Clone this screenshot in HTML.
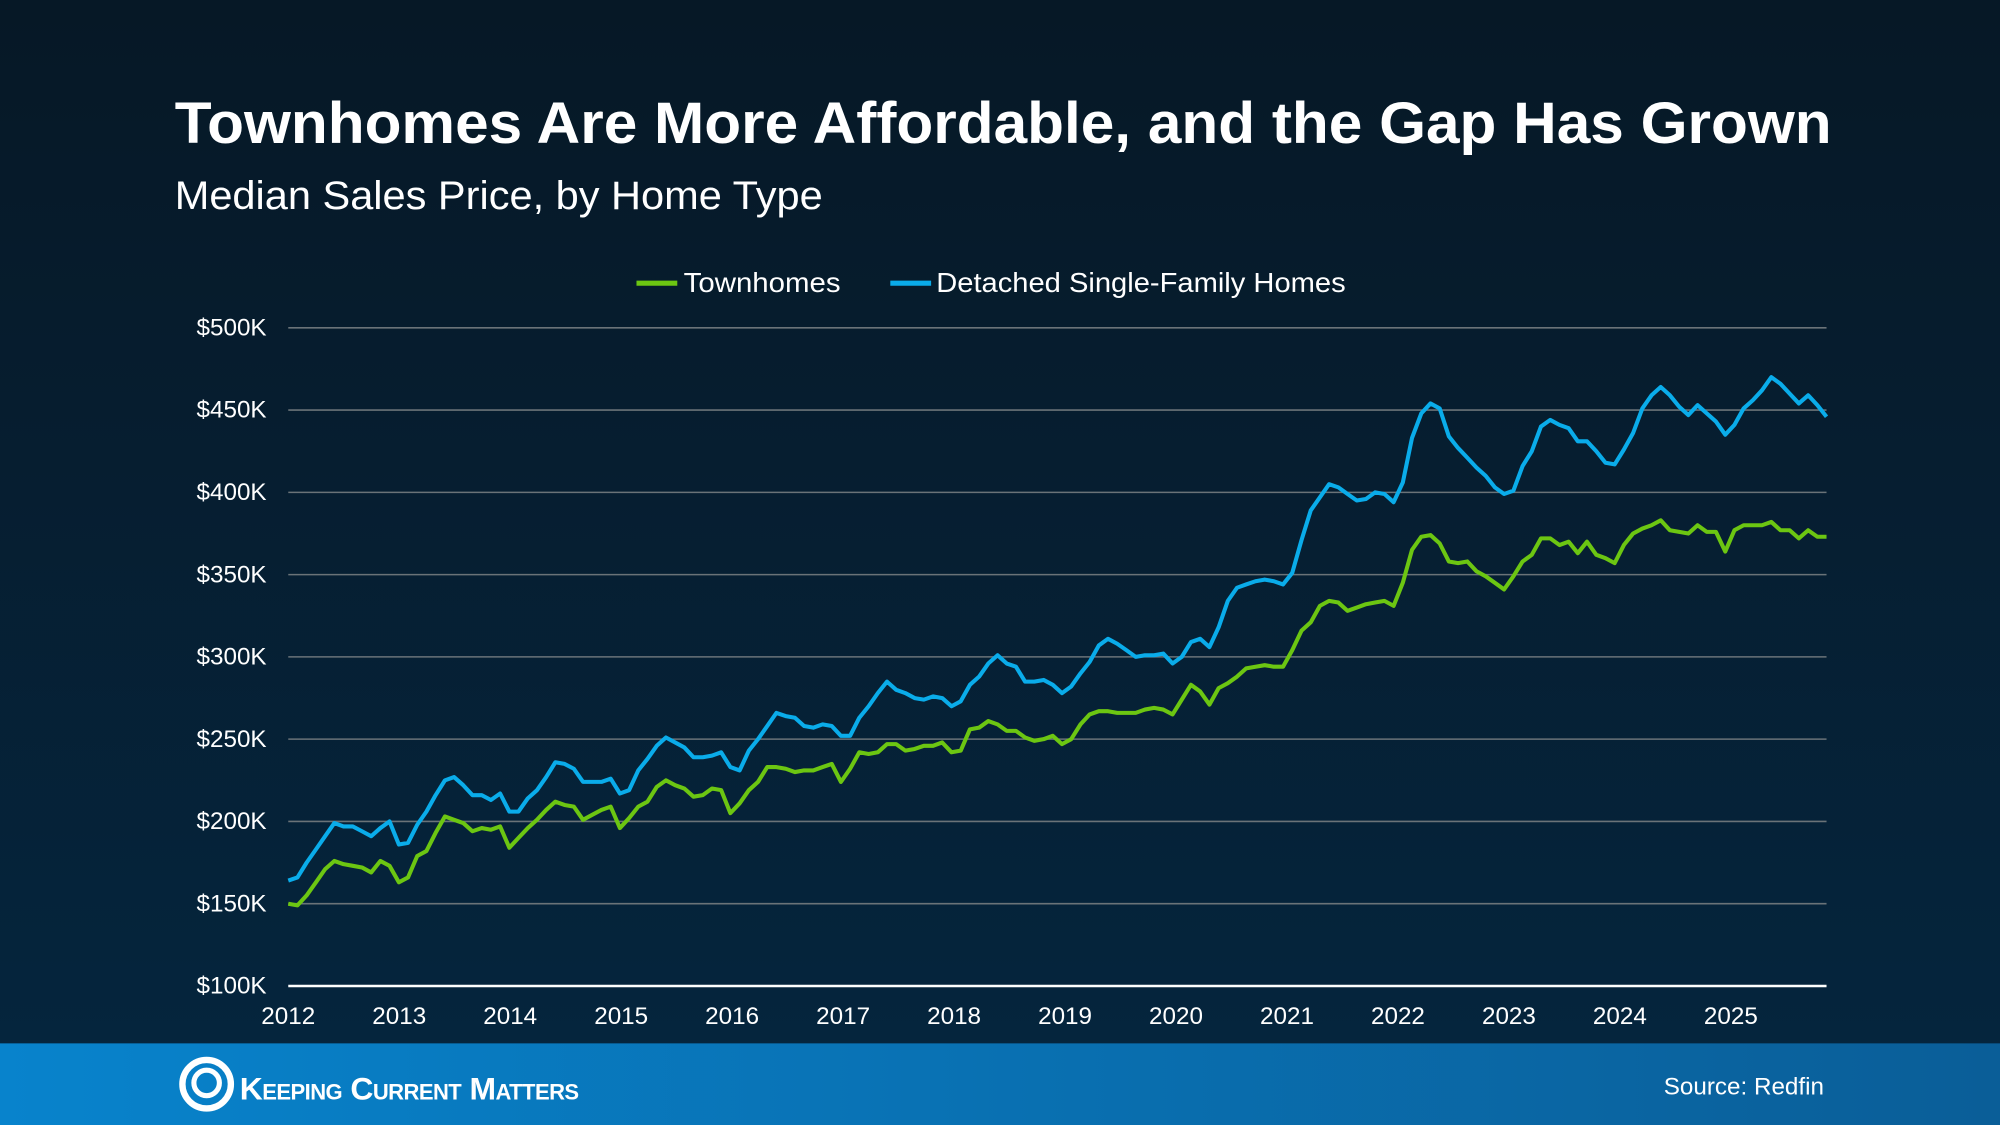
<!DOCTYPE html>
<html><head><meta charset="utf-8"><style>
html,body{margin:0;padding:0;background:#071c2e;}
svg{display:block;}
text{font-family:"Liberation Sans",Arial,sans-serif;}
</style></head><body>
<svg id="s" width="2000" height="1125" viewBox="0 0 1568 882" xmlns="http://www.w3.org/2000/svg">
<defs>
<linearGradient id="bg" x1="0" y1="0" x2="0" y2="1"><stop offset="0" stop-color="#061826"/><stop offset="1" stop-color="#05263f"/></linearGradient>
<linearGradient id="ft" x1="0" y1="0" x2="1" y2="0"><stop offset="0" stop-color="#0883cc"/><stop offset="1" stop-color="#0a5e98"/></linearGradient>
</defs>
<rect width="1568" height="882" fill="url(#bg)"/>
<rect y="818" width="1568" height="64" fill="url(#ft)"/>
<text x="137" y="112" fill="#fff" font-size="46" font-weight="bold" textLength="1299" lengthAdjust="spacingAndGlyphs">Townhomes Are More Affordable, and the Gap Has Grown</text>
<text x="137" y="164" fill="#fff" font-size="31" textLength="508" lengthAdjust="spacingAndGlyphs">Median Sales Price, by Home Type</text>
<line x1="499" y1="222" x2="531" y2="222" stroke="#6cc612" stroke-width="4"/>
<text x="536" y="229" fill="#fff" font-size="22" textLength="123" lengthAdjust="spacingAndGlyphs">Townhomes</text>
<line x1="698" y1="222" x2="730" y2="222" stroke="#0aacea" stroke-width="4"/>
<text x="734" y="229" fill="#fff" font-size="22" textLength="321" lengthAdjust="spacingAndGlyphs">Detached Single-Family Homes</text>
<g id="grid"></g>
<g id="series"></g>
<g transform="translate(141,843)" fill="#fff">
<circle cx="21" cy="7" r="19" fill="none" stroke="#fff" stroke-width="5"/>
<circle cx="21" cy="6" r="10" fill="none" stroke="#fff" stroke-width="4"/>
<text x="47" y="19" font-size="25" font-weight="bold" style="font-variant:small-caps" textLength="266">Keeping Current Matters</text>
</g>
<text x="1430" y="858" fill="#fff" font-size="19" text-anchor="end">Source: Redfin</text>
</svg>
<script>
var NS="http://www.w3.org/2000/svg";
function el(t,a,p){var e=document.createElementNS(NS,t);for(var k in a)e.setAttribute(k,a[k]);p.appendChild(e);return e;}
var g=document.getElementById("grid"),S=document.getElementById("series");
function Y(v){return 773-(v-100)*1.29;}
function X(i){return 226+i*1206/167;}
for(var v=150;v<=500;v+=50){el("line",{x1:226,x2:1432,y1:Y(v),y2:Y(v),stroke:"#6a7378","stroke-width":1.2},g);}
for(var v=100;v<=500;v+=50){var t=el("text",{x:209,y:Y(v)+6,fill:"#fff","font-size":19,"text-anchor":"end"},g);t.textContent="$"+v+"K";}
el("line",{x1:226,x2:1432,y1:773,y2:773,stroke:"#fff","stroke-width":2},g);
for(var y=0;y<14;y++){var t=el("text",{x:226+y*87,y:803,fill:"#fff","font-size":19,"text-anchor":"middle"},g);t.textContent=2012+y;}
var blue=[164,166,175,183,191,199,197,197,194,191,196,200,186,187,198,206,216,225,227,222,216,216,213,217,206,206,214,219,227,236,235,232,224,224,224,226,217,219,231,238,246,251,248,245,239,239,240,242,233,231,243,250,258,266,264,263,258,257,259,258,252,252,263,270,278,285,280,278,275,274,276,275,270,273,283,288,296,301,296,294,285,285,286,283,278,282,290,297,307,311,308,304,300,301,301,302,296,300,309,311,306,318,334,342,344,346,347,346,344,351,371,389,397,405,403,399,395,396,400,399,394,406,433,448,454,451,434,427,421,415,410,403,399,401,416,425,440,444,441,439,431,431,425,418,417,426,436,451,459,464,459,452,447,453,448,443,435,441,451,456,462,470,466,460,454,459,453,446];
var green=[150,149,155,163,171,176,174,173,172,169,176,173,163,166,179,182,193,203,201,199,194,196,195,197,184,190,196,201,207,212,210,209,201,204,207,209,196,202,209,212,221,225,222,220,215,216,220,219,205,211,219,224,233,233,232,230,231,231,233,235,224,232,242,241,242,247,247,243,244,246,246,248,242,243,256,257,261,259,255,255,251,249,250,252,247,250,259,265,267,267,266,266,266,268,269,268,265,274,283,279,271,281,284,288,293,294,295,294,294,304,316,321,331,334,333,328,330,332,333,334,331,345,365,373,374,369,358,357,358,352,349,345,341,349,358,362,372,372,368,370,363,370,362,360,357,368,375,378,380,383,377,376,375,380,376,376,364,377,380,380,380,382,377,377,372,377,373,373];
function pts(a){return a.map(function(v,i){return X(i).toFixed(1)+","+Y(v).toFixed(1);}).join(" ");}
el("polyline",{points:pts(blue),fill:"none",stroke:"#0aacea","stroke-width":3.2,"stroke-linejoin":"round"},S);
el("polyline",{points:pts(green),fill:"none",stroke:"#6cc612","stroke-width":3.2,"stroke-linejoin":"round"},S);
</script>
</body></html>
